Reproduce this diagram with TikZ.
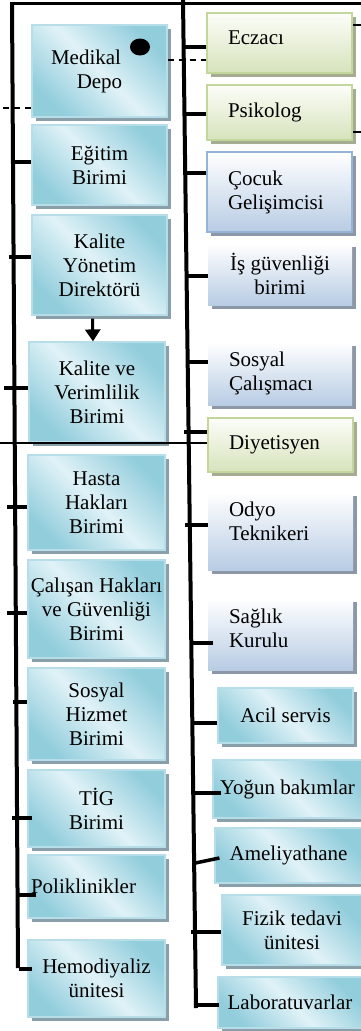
\documentclass[tikz,border=0pt]{standalone}
\usepackage{fontspec}
\setmainfont{Liberation Serif}
\usetikzlibrary{shadows,arrows.meta,shapes.geometric}
\definecolor{tealD}{RGB}{146,205,220}
\definecolor{tealL}{RGB}{224,242,247}
\definecolor{tealB}{RGB}{183,222,232}
\definecolor{shadT}{RGB}{137,160,170}
\definecolor{greenT}{RGB}{252,253,248}
\definecolor{greenD}{RGB}{214,227,188}
\definecolor{greenB}{RGB}{195,214,155}
\definecolor{shadG}{RGB}{165,172,145}
\definecolor{blueD}{RGB}{184,204,228}
\definecolor{blueB}{RGB}{149,179,215}
\definecolor{shadB}{RGB}{140,152,168}
\begin{document}
\begin{tikzpicture}[x=1pt,y=-1pt,
  box/.style={rectangle, inner sep=0pt, align=center, text=black,
    font=\fontsize{21}{24}\selectfont},
  sz/.style 2 args={minimum width=#1pt, minimum height=#2pt},
  tealbox/.style={box, draw=tealB, line width=1.2pt,
    left color=tealD, right color=tealD, middle color=tealL, shading angle=135,
    general shadow={fill=shadT, shadow xshift=4pt, shadow yshift=-4pt}},
  greenbox/.style={box, draw=greenB, line width=2pt,
    top color=greenT, bottom color=greenD,
    general shadow={fill=shadG, shadow xshift=4pt, shadow yshift=-4pt}},
  bluebox/.style={box, draw=blueB, line width=2pt,
    top color=white, bottom color=blueD,
    general shadow={fill=shadB, shadow xshift=4pt, shadow yshift=-4pt}},
  palebox/.style={box, draw=none,
    top color=white, bottom color=blueD,
    general shadow={fill=shadB, shadow xshift=4pt, shadow yshift=-4pt}},
  lefttext/.style={align=left, inner xsep=21pt, text width=#1},
  trunk/.style={line width=4pt},
  tick/.style={line width=3.5pt},
  dashline/.style={line width=1.5pt, dash pattern=on 6pt off 5pt},
  stub/.style={line width=2pt}
]
\useasboundingbox (0,0) rectangle (361,1031);

% left column
\node[tealbox, sz={135}{92}] (med) at (99.5,71) {Medikal\kern27pt\\Depo};
\node[tealbox, sz={135}{80}] (egit) at (99.5,165) {Eğitim\\Birimi};
\node[tealbox, sz={135}{100}] (kyd) at (99.5,265) {Kalite\\Yönetim\\Direktörü};
\node[tealbox, sz={136}{100}] (kvb) at (97,392) {Kalite ve\\Verimlilik\\Birimi};
\node[tealbox, sz={137}{95}] (hasta) at (96.5,502.5) {Hasta\\Hakları\\Birimi};
\node[tealbox, sz={137}{98}] (calisan) at (96.5,609) {Çalışan Hakları\\ve Güvenliği\\Birimi};
\node[tealbox, sz={137}{92}] (sosyalh) at (96.5,714) {Sosyal\\Hizmet\\Birimi};
\node[tealbox, sz={137}{77}] (tig) at (96.5,808.5) {TİG\\Birimi};
\node[tealbox, sz={137}{63}, align=left, inner xsep=3pt, text width=131pt] (polik) at (96.5,886.5) {Poliklinikler};
\node[tealbox, sz={137}{77}] (hemo) at (96.5,978.5) {Hemodiyaliz\\ünitesi};

% right column
\node[greenbox, sz={145}{60}, lefttext=103pt, text depth=10pt] (ecz) at (279.5,43) {Eczacı};
\node[greenbox, sz={145}{55}, lefttext=103pt] (psik) at (279.5,112.5) {Psikolog};
\node[bluebox, sz={145}{80}, lefttext=103pt] (cocuk) at (279.5,192) {Çocuk\\Gelişimcisi};
\node[palebox, sz={144}{62}] (isg) at (280,274) {İş güvenliği\\birimi};
\node[palebox, sz={144}{63}, lefttext=102pt] (sosc) at (280,373.5) {Sosyal\\Çalışmacı};
\node[greenbox, sz={145}{54}, lefttext=103pt] (diy) at (280.5,445) {Diyetisyen};
\node[palebox, sz={145}{78}, lefttext=103pt, text depth=44pt] (odyo) at (280.5,531) {Odyo\\Teknikeri};
\node[palebox, sz={145}{72}, lefttext=103pt, text depth=35pt] (saglik) at (280.5,634) {Sağlık\\Kurulu};
\node[tealbox, sz={135}{55}] (acil) at (285.5,715.5) {Acil servis};
\node[tealbox, sz={149}{58}] (yogun) at (287.5,789) {Yoğun bakımlar};
\node[tealbox, sz={147}{55}] (amel) at (288.5,855.5) {Ameliyathane};
\node[tealbox, sz={140}{70}] (fizik) at (292,930) {Fizik tedavi\\ünitesi};
\node[tealbox, sz={144}{51}] (lab) at (290,1002.5) {Laboratuvarlar};

\node[ellipse, fill=black, minimum width=20pt, minimum height=17pt, inner sep=0pt] (dot) at (140,47) {};

% trunks
\coordinate (LT) at (12,3);
\coordinate (LB) at (18,968);
\coordinate (MT) at (183,0);
\coordinate (MB) at (196,1008);
\coordinate (TR) at (361,3);
\draw[trunk] (LT) -- (LB);
\draw[trunk] (MT) -- (MB);
\draw[line width=3pt] ([xshift=-2pt]LT) -- (TR);

% left ticks
\draw[dashline] ([yshift=-37pt]med.west) -- ++(-32,0);
\draw[tick] ([yshift=3pt]egit.west) -- ++(-20,0);
\draw[tick] ([yshift=8pt]kyd.west) -- ++(-22,0);
\draw[tick] ([yshift=4pt]kvb.west) -- ++(-24,0);
\draw[line width=2pt] ([yshift=2pt]diy.west) -- ++(-208,0);
\draw[tick] ([yshift=-4.5pt]hasta.west) -- ++(-20,0);
\draw[tick] ([yshift=-4pt]calisan.west) -- ++(-20,0);
\draw[tick] ([yshift=12pt]sosyalh.west) -- ++(-14,0);
\draw[tick] ([xshift=5pt,yshift=-9.5pt]tig.west) -- ++(-20,0);
\draw[tick] ([xshift=9pt,yshift=-8.5pt]polik.west) -- ++(-20,0);
\draw[tick] ([xshift=5pt,yshift=9.5pt]hemo.west) -- ++(-13,0);

% arrow
\draw[line width=3pt, -{Triangle[width=15pt,length=12pt]}] ([xshift=-7pt,yshift=-3pt]kyd.south) -- ([xshift=-4pt]kvb.north);

% right ticks
\draw[tick] ([yshift=-4pt]ecz.west) -- ++(-23,0);
\draw[dashline] ([yshift=11pt]med.east) -- ([yshift=-17pt]ecz.west);
\draw[stub] ([yshift=18pt]ecz.east) -- ++(9,0);
\draw[tick] ([yshift=-1.5pt]psik.west) -- ++(-23,0);
\draw[stub] ([yshift=-19.5pt]psik.east) -- ++(9,0);
\draw[tick] ([yshift=19pt]cocuk.west) -- ++(-23,0);
\draw[tick] ([yshift=-2pt]isg.west) -- ++(-22,0);
\draw[tick] ([yshift=11.5pt]sosc.west) -- ++(-22,0);
\draw[tick] ([yshift=13pt]diy.west) -- ++(-23,0);
\draw[tick] ([yshift=6pt]odyo.west) -- ++(-23,0);
\draw[tick] ([xshift=5pt,yshift=-9pt]saglik.west) -- ++(-20,0);
\draw[tick] ([yshift=-7.5pt]acil.west) -- ++(-25,0);
\draw[tick] ([xshift=9pt,yshift=-4pt]yogun.west) -- ++(-27,0);
\draw[tick] ([xshift=5pt,yshift=-2.5pt]amel.west) -- ++(-24,5);
\draw[tick] ([yshift=-2pt]fizik.west) -- ++(-30,0);
\draw[tick] ([xshift=2pt,yshift=-2.5pt]lab.west) -- ++(-25,0);
\end{tikzpicture}
\end{document}
